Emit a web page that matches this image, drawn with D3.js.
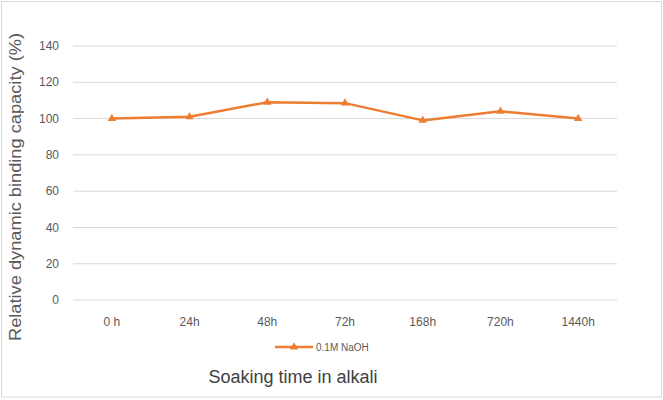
<!DOCTYPE html>
<html><head><meta charset="utf-8">
<script src="https://cdn.jsdelivr.net/npm/d3@7"></script>
<style>body{margin:0;background:#fff}svg{display:block}</style>
</head><body>
<script>
const categories = ["0 h","24h","48h","72h","168h","720h","1440h"];
const values = [100, 101, 109, 108.5, 99, 104, 100];
const yTicks = [0,20,40,60,80,100,120,140];
const seriesName = "0.1M NaOH";

(function(){
const W=663,H=400;
const svg=d3.select("body").append("svg").attr("width",W).attr("height",H);
svg.append("rect").attr("x",1.5).attr("y",1.5).attr("width",W-3).attr("height",H-4.5)
  .attr("fill","#fff").attr("stroke","#d9d9d9").attr("stroke-width",1);

const pLeft=73,pRight=617,pTop=46,pBottom=300;
const x=d3.scaleBand().domain(categories).range([pLeft,pRight]);
const y=d3.scaleLinear().domain([0,140]).range([pBottom,pTop]);
const font="Liberation Sans, Arial, sans-serif";

const grid=svg.append("g");
yTicks.forEach(t=>{
  grid.append("line").attr("x1",pLeft).attr("x2",pRight).attr("y1",y(t)).attr("y2",y(t))
    .attr("stroke","#d9d9d9").attr("stroke-width",1);
  svg.append("text").attr("x",59).attr("y",y(t)).attr("dy","0.35em").attr("text-anchor","end")
    .attr("font-family",font).attr("font-size",12).attr("fill","#595959").text(t);
});
categories.forEach(c=>{
  svg.append("text").attr("x",x(c)+x.bandwidth()/2).attr("y",322).attr("dy","0.35em")
    .attr("text-anchor","middle").attr("font-family",font).attr("font-size",12).attr("fill","#595959").text(c);
});

const color="#ED7D31";
const line=d3.line().x((d,i)=>x(categories[i])+x.bandwidth()/2).y(d=>y(d));
svg.append("path").datum(values).attr("d",line).attr("fill","none").attr("stroke",color)
  .attr("stroke-width",2.5).attr("stroke-linejoin","round");
const tri=d3.symbol().type(d3.symbolTriangle).size(30);
svg.selectAll(".m").data(values).enter().append("path")
  .attr("transform",(d,i)=>`translate(${x(categories[i])+x.bandwidth()/2},${y(d)})`)
  .attr("d",tri).attr("fill",color);

svg.append("line").attr("x1",275).attr("x2",313).attr("y1",347).attr("y2",347).attr("stroke",color).attr("stroke-width",2.5);
svg.append("path").attr("transform","translate(294,347)").attr("d",tri).attr("fill",color);
svg.append("text").attr("x",316).attr("y",347).attr("dy","0.35em").attr("font-family",font)
  .attr("font-size",10).attr("fill","#595959").text(seriesName);

svg.append("text").attr("x",293).attr("y",383).attr("text-anchor","middle").attr("font-family",font)
  .attr("font-size",18).attr("fill","#404040").text("Soaking time in alkali");

svg.append("text").attr("transform","translate(21,187) rotate(-90)").attr("text-anchor","middle")
  .attr("font-family",font).attr("font-size",17).attr("fill","#595959")
  .attr("textLength",308).attr("lengthAdjust","spacingAndGlyphs")
  .text("Relative dynamic binding capacity (%)");
})();
</script>
</body></html>
